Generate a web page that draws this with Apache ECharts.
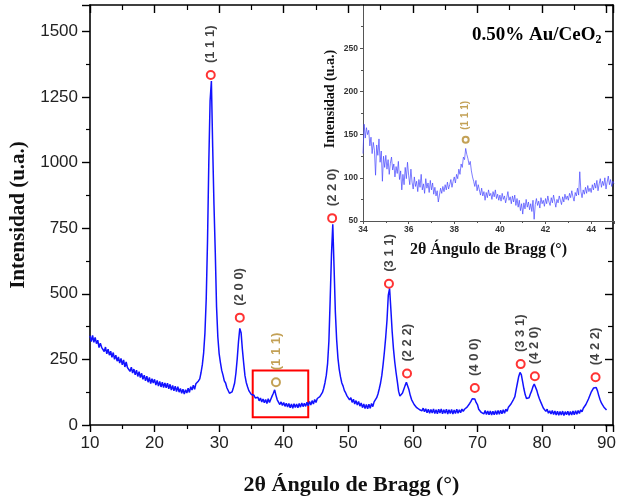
<!DOCTYPE html>
<html>
<head>
<meta charset="utf-8">
<script src="https://cdn.jsdelivr.net/npm/echarts/dist/echarts.min.js"></script>
<style>
html,body{margin:0;padding:0;background:#fff;}
#chart{width:619px;height:501px;}
</style>
</head>
<body>
<div id="chart"></div>
<script>
// ---- Main XRD pattern: 2θ from 10.0 to 90.0 in 0.2° steps ----
const mainStart = 10.0;
const mainStep = 0.2;
const mainIntensity = [
  340,318,341,315,334,310,323,295,312,296,
  303,280,297,271,289,266,281,258,276,250,
  266,243,259,236,254,229,248,221,240,219,
  226,204,220,198,213,191,209,185,203,181,
  197,174,190,168,186,163,181,158,176,160,
  174,152,170,148,166,145,163,143,160,142,
  159,138,155,133,151,130,148,127,146,125,
  139,121,136,118,134,122,140,124,146,133,
  152,136,157,150,168,176,200,230,275,350,
  480,700,1000,1235,1310,1060,840,660,450,335,
  272,238,208,190,168,160,142,137,121,128,
  126,142,160,198,252,318,368,352,288,236,
  188,162,146,131,124,116,110,113,103,106,
  106,92,103,88,99,85,97,82,100,86,
  98,110,121,134,113,96,90,78,88,74,
  86,71,83,69,82,66,80,64,81,67,
  80,66,82,68,84,70,83,71,87,73,
  90,76,93,80,97,86,101,94,108,112,
  124,140,162,190,235,320,480,650,765,600,
  430,325,255,212,183,160,148,131,122,111,
  112,96,104,86,98,80,93,76,90,72,
  84,66,80,63,78,62,79,64,82,70,
  88,95,104,118,138,160,190,232,280,335,
  400,495,520,440,355,290,240,200,165,128,
  110,114,122,136,150,163,157,134,113,97,
  92,78,80,66,73,59,66,54,64,51,
  62,47,60,45,59,46,61,44,58,43,
  60,46,61,43,58,45,60,42,58,44,
  59,42,57,44,60,45,58,47,61,52,
  60,63,68,74,82,90,100,106,99,86,
  78,60,62,48,54,42,55,40,53,39,
  53,38,52,39,54,40,55,41,56,43,
  58,45,60,52,68,62,80,76,98,108,
  135,160,185,200,192,165,138,116,101,96,
  104,118,130,146,156,150,132,114,100,88,
  84,65,68,52,60,45,54,42,55,40,
  53,38,52,37,51,38,53,36,51,39,
  52,37,51,38,53,39,54,41,55,44,
  58,50,64,61,78,80,99,104,124,128,
  141,147,143,130,112,96,84,76,68,62,
  57
];

// ---- Inset: zoom of 34°–45°, 0.05° steps ----
const insetStart = 34.0;
const insetStep = 0.05;
const insetIntensity = [
  128,162,146,158,150,155,137,147,128,141,132,103,138,126,145,118,131,96,125,112,
  126,110,121,104,117,124,109,116,101,113,105,119,98,108,86,104,92,112,99,118,
  103,92,110,95,87,101,90,96,84,98,89,104,86,93,82,99,88,94,83,97,
  86,94,81,89,79,85,72,80,88,82,90,84,92,86,95,87,92,98,89,96,
  101,94,104,99,110,104,116,112,124,121,134,127,122,115,119,108,101,96,90,97,
  85,92,86,80,88,79,84,74,83,77,86,79,82,75,84,78,86,76,81,74,
  80,73,82,75,79,71,77,84,74,78,70,79,72,80,68,76,66,74,62,70,
  58,71,64,75,66,72,63,70,61,74,52,69,76,68,73,65,77,70,74,67,
  76,70,79,72,68,77,71,80,73,66,75,71,79,74,69,78,72,81,75,79,
  74,82,77,85,78,73,83,79,88,80,107,84,77,86,81,89,82,91,84,88,
  83,92,86,94,88,97,85,93,99,89,96,91,100,87,95,102,92,98,90,96,
  93
];

// ---- Peak annotations ----
const ceriaPeakX = [28.7, 33.2, 47.5, 56.3, 59.1, 69.6, 76.7, 78.9, 88.3];
const ceriaPeakY = [1333, 409, 788, 538, 196, 141, 232, 186, 182];
const ceriaLabels = ['(1 1 1)', '(2 0 0)', '(2 2 0)', '(3 1 1)', '(2 2 2)', '(4 0 0)', '(3 3 1)', '(4 2 0)', '(4 2 2)'];
const goldMainX = [38.8];
const goldMainY = [163];
const goldInsetX = [38.5];
const goldInsetY = [144];
const goldLabels = ['(1 1 1)'];
const zoomBoxCorners = [[35.2, 30], [43.8, 208]];

const mainTicksX = { min: 10, max: 91, interval: 10 };
const mainTicksY = { min: 0, max: 1600, interval: 250 };
const insetTicksX = { min: 34, max: 45, interval: 2 };
const insetTicksY = { min: 50, max: 300, interval: 50 };

const mainData = mainIntensity.map((v, i) => [+(mainStart + i * mainStep).toFixed(2), v]);
const insetData = insetIntensity.map((v, i) => [+(insetStart + i * insetStep).toFixed(2), v]);
const ceriaPts = ceriaPeakX.map((x, i) => ({ value: [x, ceriaPeakY[i]], name: ceriaLabels[i] }));
const goldMainPts = goldMainX.map((x, i) => ({ value: [x, goldMainY[i]], name: goldLabels[i] }));
const goldInsetPts = goldInsetX.map((x, i) => ({ value: [x, goldInsetY[i]], name: goldLabels[i] }));

const SANS = '"Liberation Sans", Arial, sans-serif';
const SERIF = '"Liberation Serif", "Times New Roman", serif';
const GOLD = '#b48a2c';
const plain = v => String(v);

const chart = echarts.init(document.getElementById('chart'), null, { renderer: 'canvas' });

function frameAxis(extra) {
  return Object.assign({
    type: 'value',
    axisLine: { show: true, onZero: false, lineStyle: { color: '#000', width: 1.6 } },
    splitLine: { show: false },
    minorSplitLine: { show: false }
  }, extra);
}

chart.setOption({
  animation: false,
  backgroundColor: '#fff',
  title: {
    text: '{a|0.50% Au/CeO}{b|2}',
    left: 472, top: 24, padding: 0,
    textStyle: {
      rich: {
        a: { fontFamily: SERIF, fontWeight: 'bold', fontSize: 19, color: '#000', lineHeight: 22 },
        b: { fontFamily: SERIF, fontWeight: 'bold', fontSize: 12, color: '#000', lineHeight: 12, verticalAlign: 'bottom' }
      }
    }
  },
  grid: [
    { left: 90, top: 5, right: 5, bottom: 73, containLabel: false },
    { left: 363, top: 5, right: 5, height: 216, containLabel: false, show: true, backgroundColor: '#fff', borderWidth: 0 }
  ],
  xAxis: [
    frameAxis({
      gridIndex: 0, position: 'bottom', min: mainTicksX.min, max: mainTicksX.max, interval: mainTicksX.interval,
      axisTick: { show: true, inside: false, length: 7, lineStyle: { color: '#000', width: 1.4 } },
      minorTick: { show: true, splitNumber: 2, length: 4, lineStyle: { color: '#000', width: 1.2 } },
      axisLabel: { show: true, showMaxLabel: false, formatter: plain, fontFamily: SANS, fontSize: 17, color: '#222', margin: 10 },
      name: '2θ Ángulo de Bragg (°)', nameLocation: 'middle', nameGap: 49,
      nameTextStyle: { fontFamily: SERIF, fontWeight: 'bold', fontSize: 22, color: '#111' }
    }),
    frameAxis({
      gridIndex: 0, position: 'top', min: mainTicksX.min, max: mainTicksX.max, interval: mainTicksX.interval,
      axisTick: { show: true, inside: true, length: 8, lineStyle: { color: '#000', width: 1.4 } },
      minorTick: { show: true, splitNumber: 2, length: 5, lineStyle: { color: '#000', width: 1.2 } },
      axisLabel: { show: false }
    }),
    {
      type: 'value', gridIndex: 1, position: 'bottom', min: insetTicksX.min, max: insetTicksX.max, interval: insetTicksX.interval,
      axisLine: { show: true, onZero: false, lineStyle: { color: '#555', width: 1 } },
      axisTick: { show: true, inside: false, length: 3, lineStyle: { color: '#555', width: 1 } },
      minorTick: { show: true, splitNumber: 2, length: 2, lineStyle: { color: '#555', width: 1 } },
      splitLine: { show: false },
      axisLabel: { show: true, showMaxLabel: false, formatter: plain, fontFamily: SANS, fontWeight: 'bold', fontSize: 8.5, color: '#333', margin: 4 },
      name: '2θ Ángulo de Bragg (°)', nameLocation: 'middle', nameGap: 21,
      nameTextStyle: { fontFamily: SERIF, fontWeight: 'bold', fontSize: 16, color: '#111' }
    }
  ],
  yAxis: [
    frameAxis({
      gridIndex: 0, position: 'left', min: mainTicksY.min, max: mainTicksY.max, interval: mainTicksY.interval,
      axisTick: { show: true, inside: false, length: 8, lineStyle: { color: '#000', width: 1.4 } },
      minorTick: { show: true, splitNumber: 2, length: 4, lineStyle: { color: '#000', width: 1.2 } },
      axisLabel: { show: true, showMaxLabel: false, formatter: plain, fontFamily: SANS, fontSize: 17, color: '#222', margin: 12 },
      name: 'Intensidad (u.a.)', nameLocation: 'middle', nameGap: 55,
      nameTextStyle: { fontFamily: SERIF, fontWeight: 'bold', fontSize: 21, color: '#111' }
    }),
    frameAxis({
      gridIndex: 0, position: 'right', min: mainTicksY.min, max: mainTicksY.max, interval: mainTicksY.interval,
      axisTick: { show: true, inside: true, length: 8, lineStyle: { color: '#000', width: 1.4 } },
      minorTick: { show: true, splitNumber: 2, length: 5, lineStyle: { color: '#000', width: 1.2 } },
      axisLabel: { show: false }
    }),
    {
      type: 'value', gridIndex: 1, position: 'left', min: insetTicksY.min, max: insetTicksY.max, interval: insetTicksY.interval,
      axisLine: { show: true, onZero: false, lineStyle: { color: '#555', width: 1 } },
      axisTick: { show: true, inside: false, length: 3, lineStyle: { color: '#555', width: 1 } },
      minorTick: { show: true, splitNumber: 2, length: 2, lineStyle: { color: '#555', width: 1 } },
      splitLine: { show: false },
      axisLabel: { show: true, showMaxLabel: false, formatter: plain, fontFamily: SANS, fontWeight: 'bold', fontSize: 8.5, color: '#333', margin: 5 },
      name: 'Intensidad (u.a.)', nameLocation: 'middle', nameGap: 26,
      nameTextStyle: { fontFamily: SERIF, fontWeight: 'bold', fontSize: 14, color: '#111', padding: [0, 0, 0, 28] }
    }
  ],
  series: [
    {
      type: 'line', xAxisIndex: 0, yAxisIndex: 0, data: mainData, showSymbol: false,
      lineStyle: { color: '#1212ff', width: 1.5 }, z: 2,
      markArea: {
        silent: true,
        itemStyle: { color: 'rgba(0,0,0,0)', borderColor: '#ff0000', borderWidth: 2 },
        data: [[{ coord: zoomBoxCorners[0] }, { coord: zoomBoxCorners[1] }]]
      }
    },
    {
      type: 'scatter', xAxisIndex: 0, yAxisIndex: 0, data: ceriaPts, symbol: 'emptyCircle', symbolSize: 8,
      itemStyle: { color: '#ff0000', borderWidth: 2.2 }, z: 5,
      label: { show: true, formatter: '{b}', position: 'top', rotate: 90, align: 'left', verticalAlign: 'middle',
        distance: 7, fontFamily: SANS, fontWeight: 'bold', fontSize: 13, color: '#111' }
    },
    {
      type: 'scatter', xAxisIndex: 0, yAxisIndex: 0, data: goldMainPts, symbol: 'emptyCircle', symbolSize: 8,
      itemStyle: { color: GOLD, borderWidth: 2.2 }, z: 5,
      label: { show: true, formatter: '{b}', position: 'top', rotate: 90, align: 'left', verticalAlign: 'middle',
        distance: 7, fontFamily: SANS, fontWeight: 'bold', fontSize: 13, color: GOLD }
    },
    {
      type: 'line', xAxisIndex: 2, yAxisIndex: 2, data: insetData, showSymbol: false,
      lineStyle: { color: 'rgba(70,70,255,0.7)', width: 1 }, z: 3
    },
    {
      type: 'scatter', xAxisIndex: 2, yAxisIndex: 2, data: goldInsetPts, symbol: 'emptyCircle', symbolSize: 6,
      itemStyle: { color: GOLD, borderWidth: 1.8 }, z: 5,
      label: { show: true, formatter: '{b}', position: 'top', rotate: 90, align: 'left', verticalAlign: 'middle',
        distance: 6, fontFamily: SANS, fontWeight: 'bold', fontSize: 10, color: GOLD }
    }
  ]
});
</script>
</body>
</html>
